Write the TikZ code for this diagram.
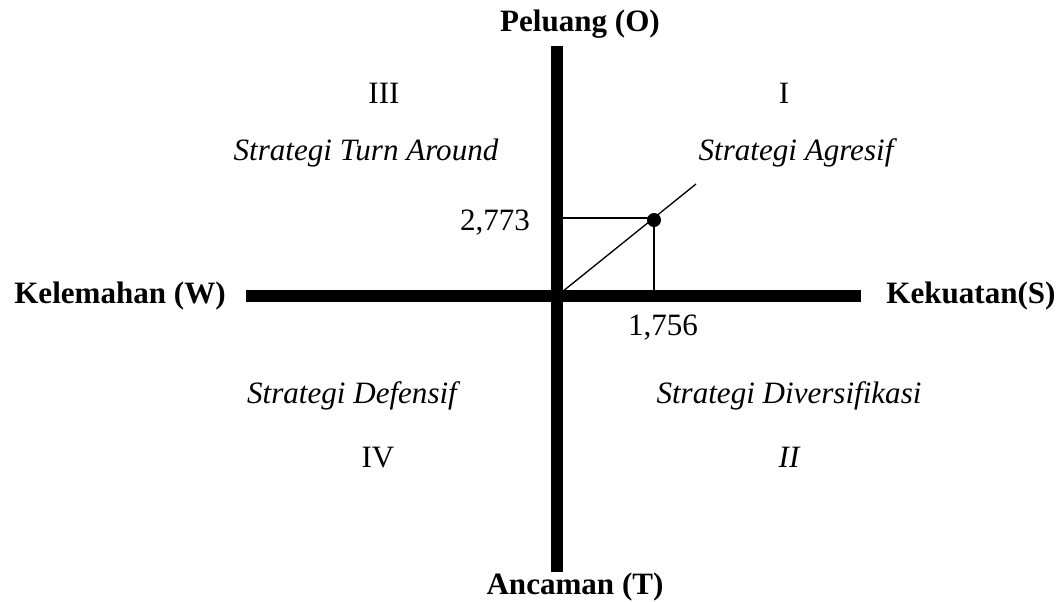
\documentclass[tikz,border=0pt]{standalone}
\usepackage{fontspec}
\setmainfont{Liberation Serif}
\usepackage{tikz}
\usetikzlibrary{positioning,calc}
\tikzset{
  axisline/.style={line width=8.4pt, line cap=butt},
  thinline/.style={line width=1pt},
  axislabel/.style={anchor=base, inner sep=0pt, font=\fontsize{23.3}{28}\selectfont\bfseries},
  quadlabel/.style={anchor=base, inner sep=0pt, font=\fontsize{23.3}{28}\selectfont},
  stratlabel/.style={anchor=base, inner sep=0pt, font=\fontsize{23.3}{28}\selectfont\itshape},
  dotpoint/.style={circle, fill=black, inner sep=0pt, minimum size=10.5pt}
}
\begin{document}
\begin{tikzpicture}[x=0.75pt, y=-0.75pt]
  \useasboundingbox (0,0) rectangle (1061,601);
  % axes
  \coordinate (origin) at (557,296);
  \coordinate (oEnd) at (557,46);
  \coordinate (tEnd) at (557,572);
  \coordinate (wEnd) at (246,296);
  \coordinate (sEnd) at (861,296);
  \draw[axisline] (oEnd) -- (tEnd);
  \draw[axisline] (wEnd) -- (sEnd);

  \node[axislabel] (peluang) at (580,31) {Peluang (O)};
  \node[axislabel] (ancaman) at (575,594) {Ancaman (T)};
  \node[axislabel] (kelemahan) at (120,303) {Kelemahan (W)};
  \node[axislabel] (kekuatan) at (971,303) {Kekuatan(S)};

  % quadrants
  \node[quadlabel] (q3) at (384,103) {III};
  \node[quadlabel] (q1) at (784,103) {I};
  \node[stratlabel] (turn) at (366,160) {Strategi Turn Around};
  \node[stratlabel] (agresif) at (796,160) {Strategi Agresif};
  \node[stratlabel] (defensif) at (352,403) {Strategi Defensif};
  \node[stratlabel] (divers) at (789,403) {Strategi Diversifikasi};
  \node[quadlabel] (q4) at (378,467) {IV};
  \node[stratlabel] (q2) at (789,467) {II};

  % position point
  \node[dotpoint] (pt) at (654,220) {};
  \coordinate (ptO) at (557,218);
  \coordinate (ptS) at (654,296);
  \coordinate (diagEnd) at (696,184);
  \draw[thinline] (ptO) -- (ptO -| pt.center) -- (ptS);
  \draw[thinline] (origin) -- (diagEnd);
  \node[quadlabel] (valO) at (495,230) {2,773};
  \node[quadlabel] (valS) at (663,335) {1,756};
\end{tikzpicture}
\end{document}
